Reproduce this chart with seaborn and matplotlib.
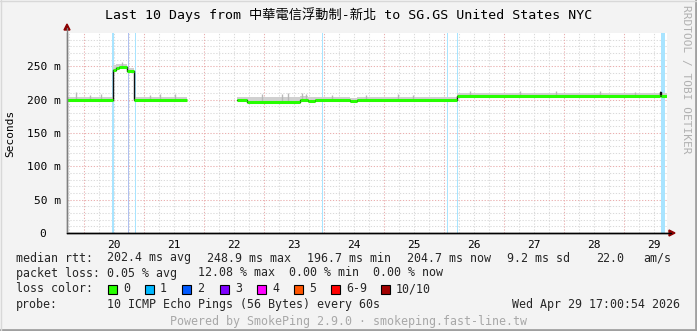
import numpy as np
import pandas as pd
import matplotlib
matplotlib.use("Agg")
import matplotlib.pyplot as plt
import seaborn as sns
from matplotlib.patches import Polygon, Rectangle
from matplotlib.lines import Line2D

# ---------------- data ----------------
title = "Last 10 Days from 中華電信浮動制-新北 to SG.GS United States NYC"
day_labels = ["20", "21", "22", "23", "24", "25", "26", "27", "28", "29"]
day_label_pos = [20.5, 21.5, 22.5, 23.5, 24.5, 25.5, 26.5, 27.5, 28.5, 29.5]
day_lines = [20, 21, 22, 23, 24, 25, 26, 27, 28, 29]
ytick_vals = [0, 50, 100, 150, 200, 250]
ytick_labels = ["0  ", "50 m", "100 m", "150 m", "200 m", "250 m"]

# median rtt (ms), step segments starting at med_t
med_t = [19.717, 20.483, 20.533, 20.583, 20.717, 20.833, 21.717, 22.550, 22.717,
         23.600, 23.733, 23.850, 24.433, 24.550, 26.217, 29.600, 29.617]
med_v = [199.0, 245.0, 247.0, 248.5, 243.0, 199.0, np.nan, 199.5, 197.0,
         200.0, 197.5, 199.0, 197.5, 199.0, 205.5, 211.0, 205.5]
med_loss = [0, 0, 0, 0, 0, 0, -1, 0, 0, 0, 0, 0, 0, 0, 0, -1, 0]
med_end = 29.717
smoke_top = [204.0, 251.5, 253.0, 253.5, 247.5, 204.0, np.nan, 204.0, 203.5,
             205.0, 203.5, 204.0, 203.0, 204.0, 210.0, 213.0, 210.0]

spike_t = [19.867, 20.100, 20.283, 20.633, 21.100, 21.267, 21.517, 22.967, 23.300,
           23.400, 23.633, 23.700, 24.133, 24.700, 25.233, 25.483, 26.433, 27.267,
           27.867, 28.600, 29.183]
spike_v = [212, 207, 208, 256, 207, 209, 208, 208, 209, 209.5, 210, 208, 207.5, 207.5,
           208.5, 207.5, 213, 213, 212.5, 213, 212]

loss_t = [20.467, 20.733, 20.850, 23.967, 26.050, 26.217, 29.617]
loss_dur = [0.033, 0.025, 0.025, 0.025, 0.020, 0.025, 0.067]
loss_lvl = [1, 2, 1, 1, 1, 1, 1]

loss_names = ["0", "1", "2", "3", "4", "5", "6-9", "10/10"]
loss_cols = ["#26ff00", "#00b8ff", "#0059ff", "#7e00ff", "#ff00ff", "#ff5500", "#ff0000", "#a10000"]
loss_bg = {1: "#a8e4ff", 2: "#b0c0f0"}

stats_rtt = ["202.4 ms avg", "248.9 ms max", "196.7 ms min", "204.7 ms now", "9.2 ms sd", "22.0", "am/s"]
stats_loss = ["0.05 % avg", "12.08 % max", "0.00 % min", "0.00 % now"]
probe_text = "10 ICMP Echo Pings (56 Bytes) every 60s"
date_text = "Wed Apr 29 17:00:54 2026"
powered = "Powered by SmokePing 2.9.0 · smokeping.fast-line.tw"
side_text = "RRDTOOL / TOBI OETIKER"

# ---------------- figure ----------------
sns.set_theme(style="white")
plt.rcParams["font.family"] = ["DejaVu Sans Mono", "Noto Sans CJK TC"]
W, H = 697, 331
fig = plt.figure(figsize=(W / 100, H / 100), dpi=100, facecolor="#f3f3f3")

def fx(x):
    return x / W

def fy(y):
    return 1 - y / H

ax = fig.add_axes([fx(67), fy(233), fx(600), 200 / H])
ax.set_facecolor("white")
ax.set_xlim(19.717, 29.717)
ax.set_ylim(0, 300)

# grid
dots = (0, (1.2, 1.6))
for v in np.arange(10, 300, 10):
    if v % 50:
        ax.axhline(v, color="#dadada", lw=0.75, ls=dots, zorder=0)
xs = np.arange(19.75, 29.72, 0.25)
for v in xs:
    if abs(v - round(v)) > 1e-6:
        ax.axvline(v, color="#dadada", lw=0.75, ls=dots, zorder=0)
for v in range(50, 300, 50):
    ax.axhline(v, color="#eab0b0", lw=0.75, ls=dots, zorder=0.5)
for v in day_lines:
    ax.axvline(v, color="#eab0b0", lw=0.75, ls=dots, zorder=0.5)

# loss background bars
for t, d, l in zip(loss_t, loss_dur, loss_lvl):
    ax.axvspan(t, t + d, color=loss_bg[l], lw=0, zorder=1)

# smoke
t_edges = med_t + [med_end]
for i in range(len(med_t)):
    if np.isnan(med_v[i]):
        continue
    ax.fill_between([t_edges[i], t_edges[i + 1]], med_v[i], smoke_top[i],
                    color="#d0d0d0", lw=0, zorder=2)
# spikes
base = pd.Series(med_v, index=med_t)
for t, v in zip(spike_t, spike_v):
    b = base[base.index <= t].iloc[-1]
    ax.vlines(t, b, v, color="#b8b8b8", lw=1.0, zorder=2)

# black median line (thin) via seaborn, per contiguous chunk
df = pd.DataFrame({"t": t_edges, "v": med_v + [med_v[-1]]})
chunk = (df["v"].isna()).cumsum()
for k, g in df.groupby(chunk):
    g = g.dropna()
    if len(g) > 1:
        sns.lineplot(data=g, x="t", y="v", drawstyle="steps-post", color="#101010",
                     lw=1.0, ax=ax, zorder=3, estimator=None, sort=False)
# colored median by loss
for i in range(len(med_t)):
    if np.isnan(med_v[i]) or med_loss[i] < 0:
        continue
    ax.hlines(med_v[i], t_edges[i], t_edges[i + 1], color=loss_cols[med_loss[i]],
              lw=2.2, zorder=4)
ax.set_xlabel("")
ax.set_ylabel("")

# axes styling
for s in ["top", "right"]:
    ax.spines[s].set_visible(False)
ax.spines["left"].set_color("#808080")
ax.spines["left"].set_linewidth(1.0)
ax.spines["bottom"].set_color("#000000")
ax.spines["bottom"].set_linewidth(1.0)
ax.spines["left"].set_zorder(6)
ax.spines["bottom"].set_zorder(6)
ax.set_yticks(ytick_vals, ytick_labels)
ax.set_xticks(day_label_pos, day_labels)
ax.tick_params(axis="y", length=3, direction="inout", color="#808080", pad=3,
               labelsize=8, labelcolor="#000000")
ax.tick_params(axis="x", length=0, pad=5, labelsize=8, labelcolor="#000000")

# axis extensions and arrows
fig.add_artist(Line2D([fx(67), fx(67)], [fy(233), fy(28)], color="#808080", lw=1.0))
fig.add_artist(Line2D([fx(67), fx(671)], [fy(233), fy(233)], color="#000000", lw=1.0))
fig.add_artist(Polygon([[fx(64), fy(30)], [fx(70), fy(30)], [fx(67), fy(24)]],
                       closed=True, color="#8b0000"))
fig.add_artist(Polygon([[fx(669), fy(230)], [fx(669), fy(236)], [fx(675), fy(233)]],
                       closed=True, color="#8b0000"))

# texts
fig.text(0.5, fy(15), title, ha="center", va="center", fontsize=9.5, color="#000000")
fig.text(fx(10), fy(133), "Seconds", rotation=90, ha="center", va="center",
         fontsize=8, color="#000000")
fig.text(fx(686), fy(5), side_text, rotation=-90, ha="center", va="top",
         fontsize=8, color="#b0b0b0")

fs = 8.4
r1, r2, r3, r4, r5 = 258, 273, 289, 304.5, 321
fig.text(fx(16), fy(r1), "median rtt:", ha="left", va="center", fontsize=fs)
rtt_x = [107, 207, 307, 407, 507, 596, 643]
for x, s in zip(rtt_x, stats_rtt):
    fig.text(fx(x), fy(r1), s, ha="left", va="center", fontsize=fs)
fig.text(fx(16), fy(r2), "packet loss:", ha="left", va="center", fontsize=fs)
loss_x = [107, 198, 289, 373]
for x, s in zip(loss_x, stats_loss):
    fig.text(fx(x), fy(r2), s, ha="left", va="center", fontsize=fs)
fig.text(fx(16), fy(r3), "loss color:", ha="left", va="center", fontsize=fs)
box_x = [108, 145, 182, 220, 257, 294, 331, 381]
for x, c, n in zip(box_x, loss_cols, loss_names):
    fig.add_artist(Rectangle((fx(x), fy(r3 + 4.5)), fx(9), 9 / H, facecolor=c,
                             edgecolor="#000000", lw=0.8))
    fig.text(fx(x + 15), fy(r3), n, ha="left", va="center", fontsize=fs)
fig.text(fx(16), fy(r4), "probe:", ha="left", va="center", fontsize=fs)
fig.text(fx(107), fy(r4), probe_text, ha="left", va="center", fontsize=fs)
fig.text(fx(680), fy(r4), date_text, ha="right", va="center", fontsize=fs)
fig.text(fx(348), fy(r5), powered, ha="center", va="center", fontsize=fs, color="#a8a8a8")

# border
fig.add_artist(Line2D([0, 1], [fy(330), fy(330)], color="#a0a0a0", lw=2))
fig.add_artist(Line2D([fx(696), fx(696)], [0, 1], color="#a0a0a0", lw=2))
fig.add_artist(Line2D([0, 1], [fy(0.5), fy(0.5)], color="#d8d8d8", lw=1))
fig.add_artist(Line2D([fx(0.5), fx(0.5)], [0, 1], color="#d8d8d8", lw=1))

fig.savefig("out.png", dpi=100, facecolor=fig.get_facecolor())
